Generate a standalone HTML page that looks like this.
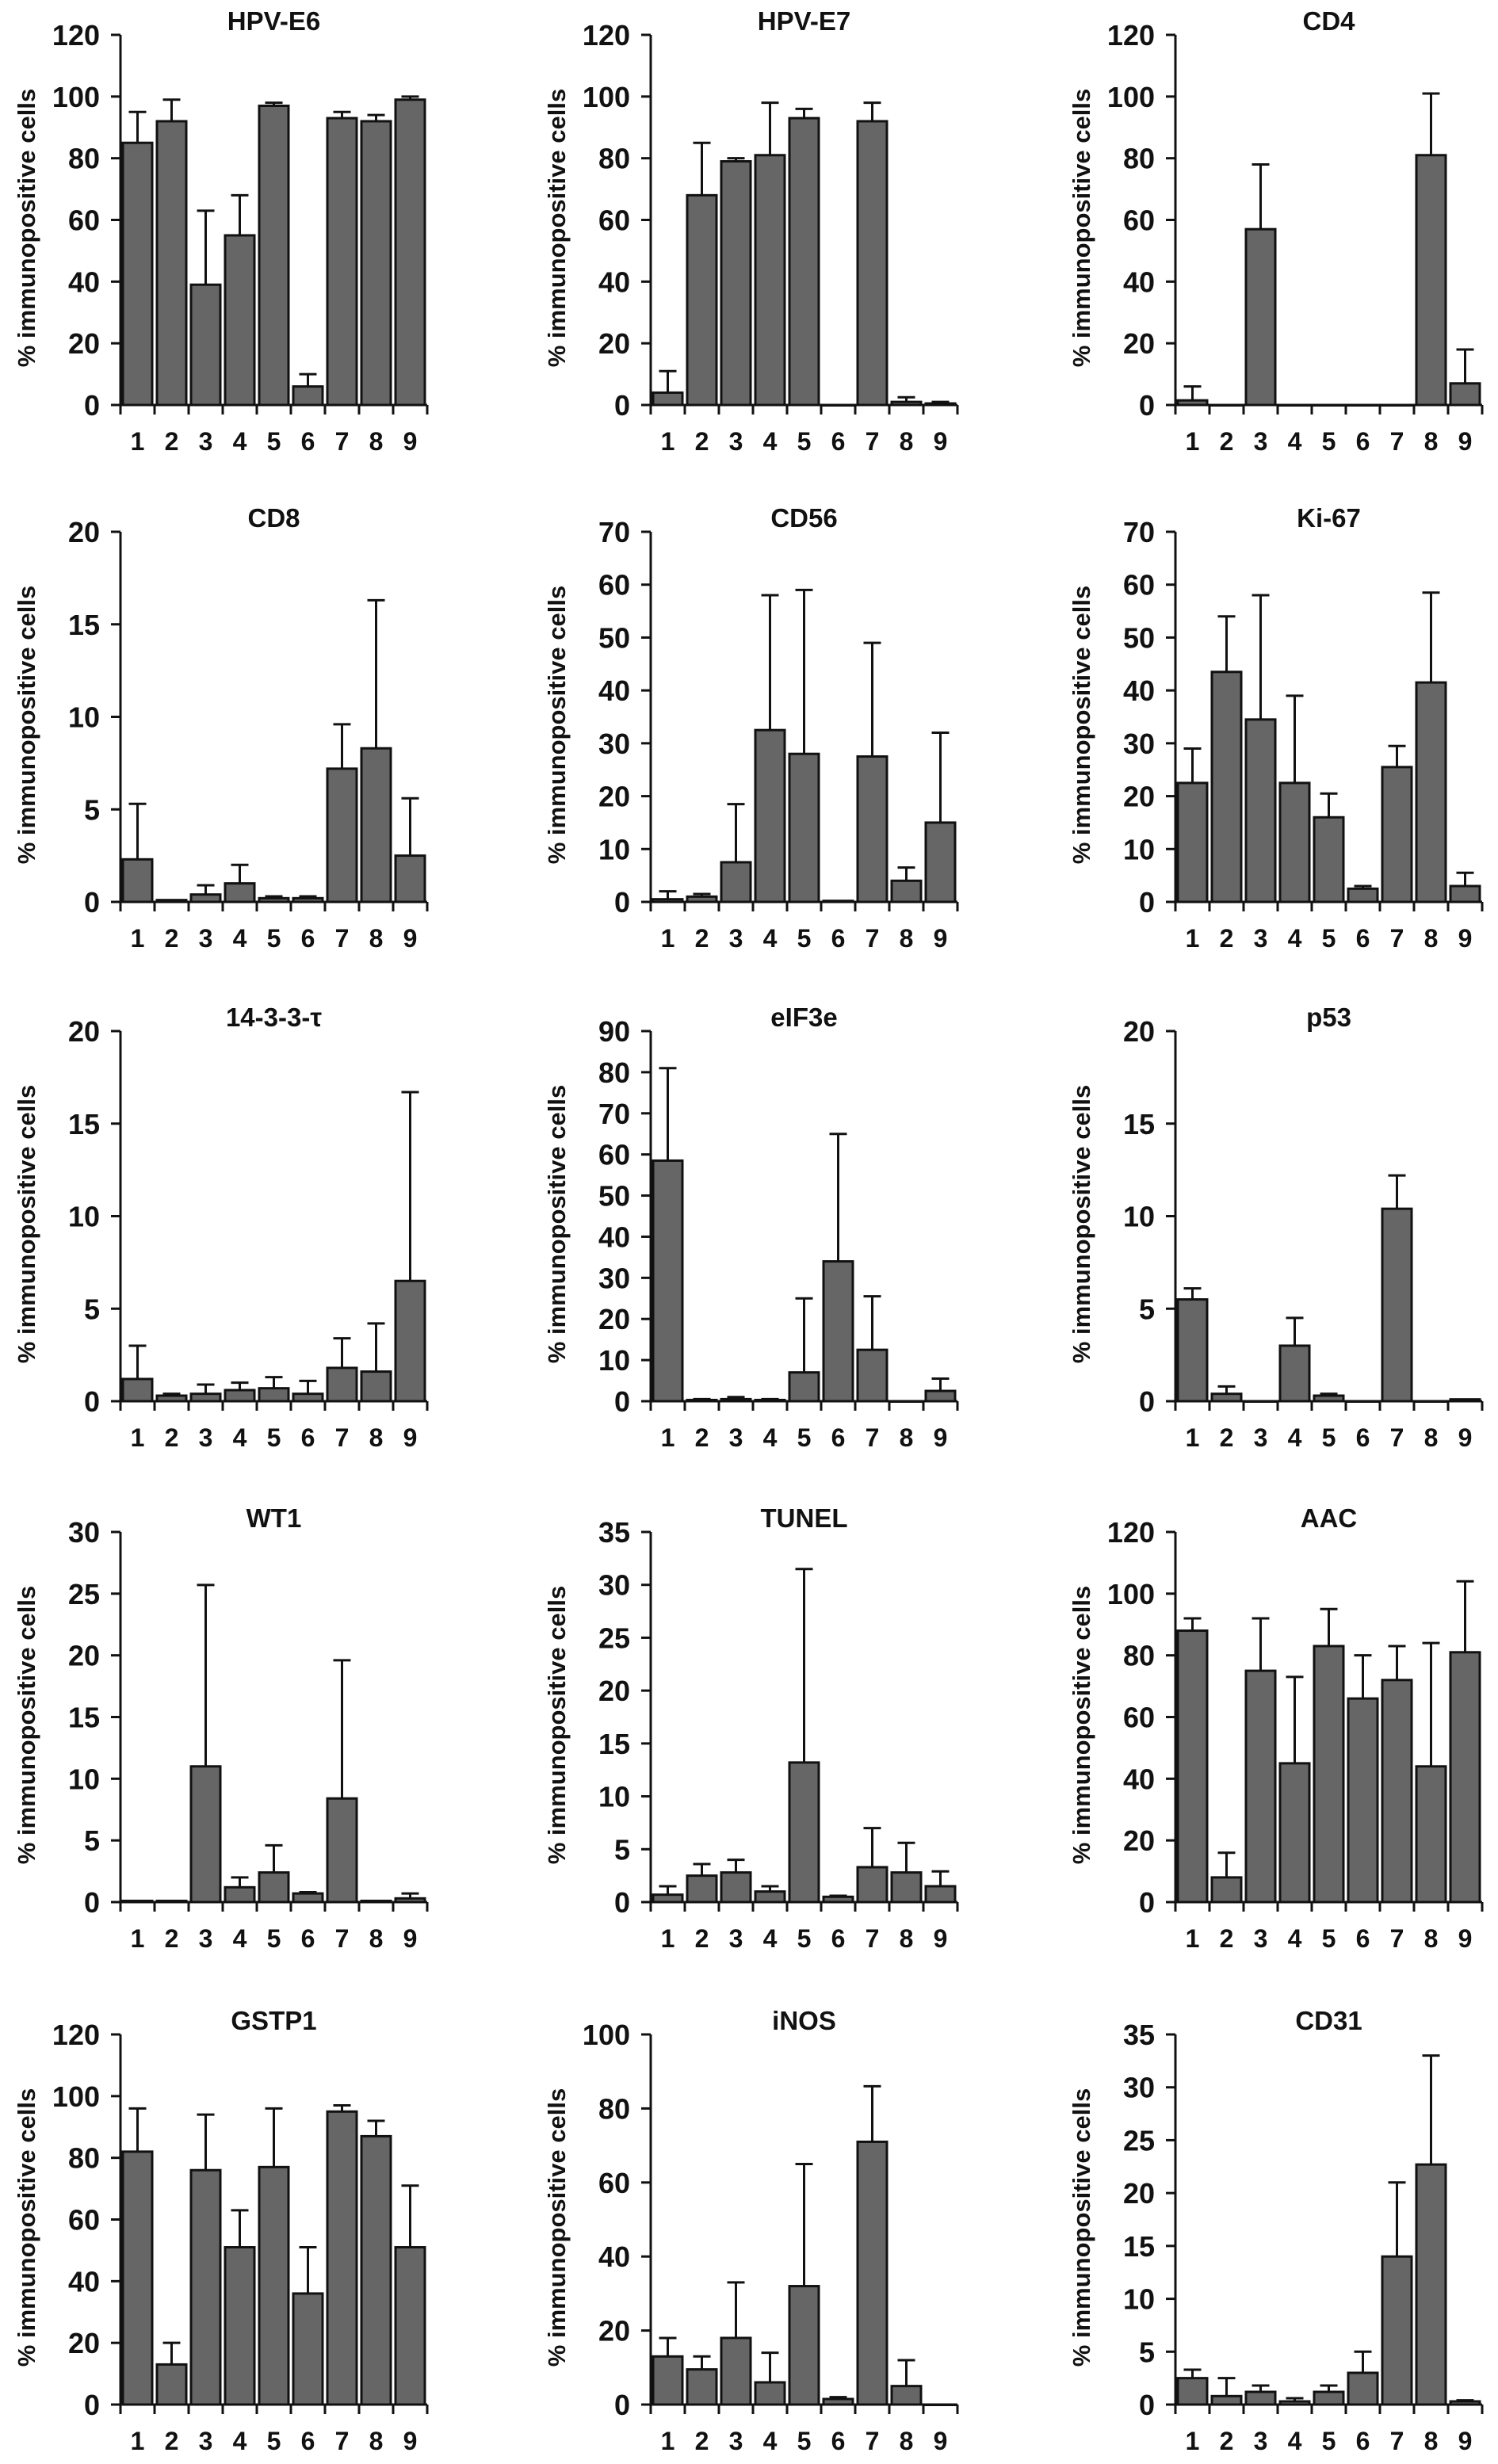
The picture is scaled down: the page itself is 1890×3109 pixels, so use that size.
<!DOCTYPE html>
<html><head><meta charset="utf-8"><style>
html,body{margin:0;padding:0;background:#fff;}
svg{display:block;}
text{font-family:"Liberation Sans",Arial,sans-serif;font-weight:bold;fill:#111;}
</style></head>
<body>
<svg id="fig" width="1890" height="3109" viewBox="0 0 1890 3109" xmlns="http://www.w3.org/2000/svg"></svg>
<script>
const categories = ["1","2","3","4","5","6","7","8","9"];
const titles = ["HPV-E6","HPV-E7","CD4","CD8","CD56","Ki-67","14-3-3-τ","eIF3e","p53","WT1","TUNEL","AAC","GSTP1","iNOS","CD31"];
const yMax = [120,120,120,20,70,70,20,90,20,30,35,120,120,100,35];
const yStep = [20,20,20,5,10,10,5,10,5,5,5,20,20,20,5];
const meanHPVE6 = [85,92,39,55,97,6,93,92,99];
const errHPVE6 = [95,99,63,68,98,10,95,94,100];
const meanHPVE7 = [4,68,79,81,93,0,92,1,0.5];
const errHPVE7 = [11,85,80,98,96,0,98,2.5,1];
const meanCD4 = [1.5,0,57,0,0,0,0,81,7];
const errCD4 = [6,0,78,0,0,0,0,101,18];
const meanCD8 = [2.3,0.1,0.4,1.0,0.2,0.2,7.2,8.3,2.5];
const errCD8 = [5.3,0.1,0.9,2.0,0.3,0.3,9.6,16.3,5.6];
const meanCD56 = [0.5,1,7.5,32.5,28,0.2,27.5,4,15];
const errCD56 = [2,1.5,18.5,58,59,0.2,49,6.5,32];
const meanKi67 = [22.5,43.5,34.5,22.5,16,2.5,25.5,41.5,3];
const errKi67 = [29,54,58,39,20.5,3,29.5,58.5,5.5];
const mean1433 = [1.2,0.3,0.4,0.6,0.7,0.4,1.8,1.6,6.5];
const err1433 = [3,0.4,0.9,1.0,1.3,1.1,3.4,4.2,16.7];
const meanEIF3e = [58.5,0.3,0.5,0.3,7,34,12.5,0,2.5];
const errEIF3e = [81,0.5,1,0.5,25,65,25.5,0,5.5];
const meanP53 = [5.5,0.4,0,3,0.3,0,10.4,0,0.1];
const errP53 = [6.1,0.8,0,4.5,0.4,0,12.2,0,0.1];
const meanWT1 = [0.1,0.1,11,1.2,2.4,0.7,8.4,0.1,0.3];
const errWT1 = [0.1,0.1,25.7,2,4.6,0.8,19.6,0.1,0.7];
const meanTUNEL = [0.7,2.5,2.8,1,13.2,0.5,3.3,2.8,1.5];
const errTUNEL = [1.5,3.6,4,1.5,31.5,0.6,7,5.6,2.9];
const meanAAC = [88,8,75,45,83,66,72,44,81];
const errAAC = [92,16,92,73,95,80,83,84,104];
const meanGSTP1 = [82,13,76,51,77,36,95,87,51];
const errGSTP1 = [96,20,94,63,96,51,97,92,71];
const meanINOS = [13,9.5,18,6,32,1.5,71,5,0];
const errINOS = [18,13,33,14,65,2,86,12,0];
const meanCD31 = [2.5,0.8,1.2,0.3,1.2,3,14,22.7,0.3];
const errCD31 = [3.3,2.5,1.8,0.6,1.8,5,21,33,0.4];
const means = [meanHPVE6,meanHPVE7,meanCD4,meanCD8,meanCD56,meanKi67,mean1433,meanEIF3e,meanP53,meanWT1,meanTUNEL,meanAAC,meanGSTP1,meanINOS,meanCD31];
const errs = [errHPVE6,errHPVE7,errCD4,errCD8,errCD56,errKi67,err1433,errEIF3e,errP53,errWT1,errTUNEL,errAAC,errGSTP1,errINOS,errCD31];

const NS="http://www.w3.org/2000/svg";
const svg=document.getElementById('fig');
const colX=[152,821,1483];
const rowZero=[511,1138,1768,2400,3034];
const PH=467, PW=387;
function mk(tag,attrs,parent){const e=document.createElementNS(NS,tag);for(const k in attrs)e.setAttribute(k,attrs[k]);parent.appendChild(e);return e;}

titles.forEach((t,ci)=>{
  const x0=colX[ci%3], y0=rowZero[Math.floor(ci/3)];
  const slot=PW/categories.length;
  const ys=v=>y0-v/yMax[ci]*PH;
  const xs=i=>x0+slot*i;
  const g=mk('g',{},svg);
  
  
  const tt=mk('text',{x:x0+PW/2,y:y0-PH-6,'text-anchor':'middle','font-size':33},g);
  tt.textContent=t;
  
  
  const yt=mk('text',{transform:`translate(${x0-108},${y0-PH/2+10}) rotate(-90)`,'text-anchor':'middle','font-size':31},g);
  yt.textContent='% immunopositive cells';
  
  
  means[ci].forEach((v,i)=>{
    const cx=xs(i)+slot/2, bw=37;
    const e=errs[ci][i];
    if(e>v){
      const el=mk('line',{x1:cx,x2:cx,y1:ys(v),y2:ys(e),stroke:'#111','stroke-width':3},g);
      
      
      const cap=mk('line',{x1:cx-11,x2:cx+11,y1:ys(e),y2:ys(e),stroke:'#111','stroke-width':3},g);
      
      
    }
    const top=ys(v);
    const b=mk('rect',{x:cx-bw/2,y:top,width:bw,height:Math.max(y0-top,0.5),fill:'#666',stroke:'#111','stroke-width':3},g);
    
    
    const xl=mk('text',{x:cx,y:y0+57,'text-anchor':'middle','font-size':32},g);
    xl.textContent=categories[i];
    
    
  });
  const ya=mk('line',{x1:x0,x2:x0,y1:y0-PH,y2:y0,stroke:'#111','stroke-width':3},g);
  
  
  const xa=mk('line',{x1:x0-12,x2:x0+PW,y1:y0,y2:y0,stroke:'#111','stroke-width':3},g);
  
  
  for(let i=0;i<=categories.length;i++){
    const tk=mk('line',{x1:xs(i),x2:xs(i),y1:y0,y2:y0+12,stroke:'#111','stroke-width':3},g);
    
    
  }
  for(let v=0;v<=yMax[ci]+1e-9;v+=yStep[ci]){
    const tk=mk('line',{x1:x0-12,x2:x0,y1:ys(v),y2:ys(v),stroke:'#111','stroke-width':3},g);
    
    
    const tl=mk('text',{x:x0-26,y:ys(v)+13,'text-anchor':'end','font-size':36},g);
    tl.textContent=String(v);
    
    
  }
});
</script>
</body></html>
